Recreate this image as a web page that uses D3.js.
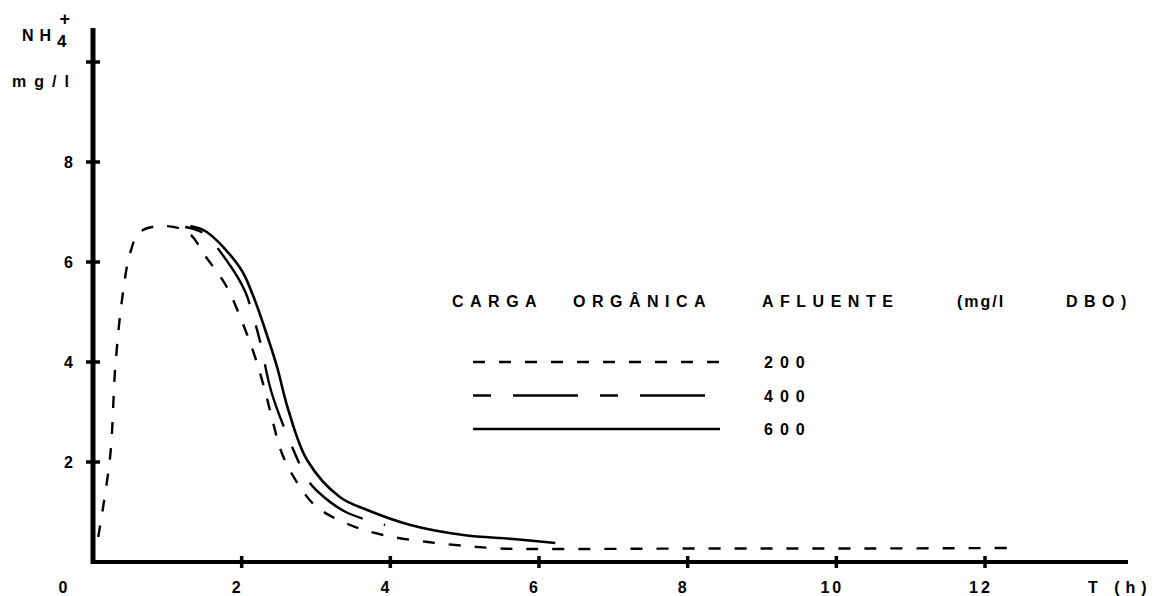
<!DOCTYPE html>
<html>
<head>
<meta charset="utf-8">
<script src="https://cdn.jsdelivr.net/npm/d3@7"></script>
<style>
  body { margin: 0; background: #fff; }
  svg { display: block; }
  text { font-family: "Liberation Sans", "DejaVu Sans", sans-serif; font-weight: bold; fill: #000; }
</style>
</head>
<body>
<svg width="1155" height="596"></svg>
<script>
// Curves: [T (h), NH4+ (mg/l)]
const series200 = [
    [0.07, 0.5], [0.23, 2.1], [0.30, 3.9], [0.39, 5.24], [0.50, 6.18], [0.63, 6.6],
    [0.94, 6.72], [1.27, 6.6], [1.53, 6.08], [1.80, 5.5], [2.02, 4.75], [2.18, 4.1],
    [2.31, 3.45], [2.42, 2.8], [2.54, 2.18], [2.75, 1.58], [3.01, 1.1], [3.46, 0.74],
    [3.90, 0.54], [4.50, 0.4], [5.03, 0.32], [5.48, 0.27], [6.06, 0.26], [8.17, 0.27],
    [10.19, 0.27], [12.3, 0.28]
];
const series400 = [
    [1.24, 6.7], [1.48, 6.58], [1.84, 5.94], [2.05, 5.4], [2.15, 4.94], [2.25, 4.4],
    [2.40, 3.4], [2.68, 2.3], [2.89, 1.64], [3.03, 1.4], [3.40, 1.0], [3.93, 0.74]
];
const series600 = [
    [1.31, 6.72], [1.53, 6.6], [1.98, 5.88], [2.15, 5.34], [2.34, 4.54], [2.48, 3.88],
    [2.62, 3.08], [2.88, 2.04], [3.32, 1.3], [3.69, 1.04], [4.27, 0.74], [4.98, 0.54],
    [5.65, 0.46], [6.22, 0.38]
];

const xTicks = [2, 4, 6, 8, 10, 12];
const yTicks = [2, 4, 6, 8, 10];
const yTickLabels = ["2", "4", "6", "8"];
const legendLabels = ["200", "400", "600"];
const legendTitle = ["CARGA", "ORGÂNICA", "AFLUENTE", "(mg/l", "DBO)"];

const svg = d3.select("svg");

// Scales fitted to the drawn axes
const x = d3.scaleLinear().domain([0, 12]).range([93, 985]);
const y = d3.scaleLinear().domain([0, 10]).range([562, 62]);

// Axes (thick hand-inked lines)
svg.append("line")
    .attr("x1", x(0)).attr("x2", 1128)
    .attr("y1", y(0)).attr("y2", y(0))
    .attr("stroke", "#000").attr("stroke-width", 4);
svg.append("line")
    .attr("x1", x(0)).attr("x2", x(0))
    .attr("y1", 28).attr("y2", y(0) + 2)
    .attr("stroke", "#000").attr("stroke-width", 5);

// Tick marks crossing the axes
svg.append("g").selectAll("line")
    .data(xTicks)
    .enter().append("line")
        .attr("x1", d => x(d)).attr("x2", d => x(d))
        .attr("y1", y(0) - 6).attr("y2", y(0) + 6)
        .attr("stroke", "#000").attr("stroke-width", 3.5);
svg.append("g").selectAll("line")
    .data(yTicks)
    .enter().append("line")
        .attr("x1", x(0) - 7).attr("x2", x(0) + 7)
        .attr("y1", d => y(d)).attr("y2", d => y(d))
        .attr("stroke", "#000").attr("stroke-width", 3.5);

// Tick labels
svg.append("g").selectAll("text")
    .data(xTicks)
    .enter().append("text")
        .attr("x", d => x(d) - 4)
        .attr("y", 593)
        .attr("text-anchor", "middle")
        .attr("font-size", 16)
        .attr("letter-spacing", 3)
        .text(d => d);
svg.append("text").attr("x", 63).attr("y", 593)
    .attr("text-anchor", "middle").attr("font-size", 16).text("0");
svg.append("text").attr("x", 1088).attr("y", 593)
    .attr("font-size", 16).attr("letter-spacing", 6).text("T (h)");

svg.append("g").selectAll("text")
    .data(yTickLabels)
    .enter().append("text")
        .attr("x", 73)
        .attr("y", d => y(+d) + 6)
        .attr("text-anchor", "end")
        .attr("font-size", 16)
        .text(d => d);

// Y axis title: NH4+ mg/l
const yTitle = svg.append("text").attr("x", 22).attr("y", 41).attr("font-size", 16);
yTitle.append("tspan").attr("letter-spacing", 6).text("NH");
yTitle.append("tspan").attr("dy", 6).attr("font-size", 17).text("4");
yTitle.append("tspan").attr("dx", -7).attr("dy", -22).attr("font-size", 18).text("+");
svg.append("text").attr("x", 12).attr("y", 87)
    .attr("font-size", 16).attr("letter-spacing", 8).text("mg/l");

// Curves
const line = d3.line()
    .x(d => x(d[0]))
    .y(d => y(d[1]))
    .curve(d3.curveCatmullRom.alpha(0.5));

const dash200 = "12,14";
const dash400 = "18,22,65,22";

svg.append("path").datum(series200)
    .attr("d", line).attr("fill", "none")
    .attr("stroke", "#000").attr("stroke-width", 2.4)
    .attr("stroke-dasharray", dash200);
svg.append("path").datum(series400)
    .attr("d", line).attr("fill", "none")
    .attr("stroke", "#000").attr("stroke-width", 2.4)
    .attr("stroke-dasharray", dash400);
svg.append("path").datum(series600)
    .attr("d", line).attr("fill", "none")
    .attr("stroke", "#000").attr("stroke-width", 2.6);

// Legend
const titleX = [452, 573, 762, 957, 1066];
svg.append("g").selectAll("text")
    .data(legendTitle)
    .enter().append("text")
        .attr("x", (d, i) => titleX[i])
        .attr("y", 307)
        .attr("font-size", 16)
        .attr("letter-spacing", (d, i) => i === 3 ? 2 : 6.5)
        .text(d => d);

const legendDash = [dash200, dash400, null];
const legendRow = d3.scalePoint().domain(legendLabels).range([362, 429]);
const legend = svg.append("g").selectAll("g")
    .data(legendLabels)
    .enter().append("g");
legend.append("line")
    .attr("x1", 473).attr("x2", 720)
    .attr("y1", d => legendRow(d)).attr("y2", d => legendRow(d))
    .attr("stroke", "#000").attr("stroke-width", 2.4)
    .attr("stroke-dasharray", (d, i) => legendDash[i]);
legend.append("text")
    .attr("x", 764)
    .attr("y", d => legendRow(d) + 6)
    .attr("font-size", 16)
    .attr("letter-spacing", 7)
    .text(d => d);
</script>
</body>
</html>
